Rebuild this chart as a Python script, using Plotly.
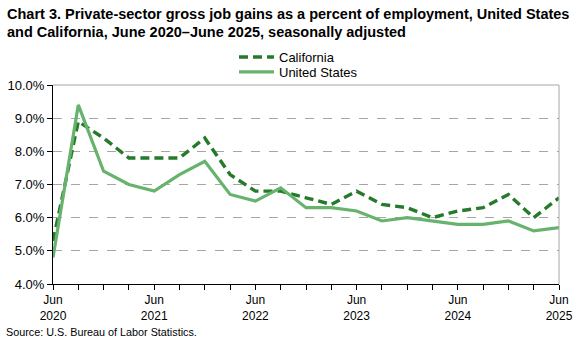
import plotly.graph_objects as go

quarters = ["Jun 2020", "Sep 2020", "Dec 2020", "Mar 2021", "Jun 2021", "Sep 2021", "Dec 2021",
            "Mar 2022", "Jun 2022", "Sep 2022", "Dec 2022", "Mar 2023", "Jun 2023", "Sep 2023",
            "Dec 2023", "Mar 2024", "Jun 2024", "Sep 2024", "Dec 2024", "Mar 2025", "Jun 2025"]
california = [5.3, 8.9, 8.4, 7.8, 7.8, 7.8, 8.4, 7.3, 6.8, 6.8, 6.6, 6.4, 6.8, 6.4,
              6.3, 6.0, 6.2, 6.3, 6.7, 6.0, 6.6]
united_states = [4.8, 9.4, 7.4, 7.0, 6.8, 7.3, 7.7, 6.7, 6.5, 6.9, 6.3, 6.3, 6.2, 5.9,
                 6.0, 5.9, 5.8, 5.8, 5.9, 5.6, 5.7]
tick_labels = ["Jun<br>2020", "Jun<br>2021", "Jun<br>2022", "Jun<br>2023", "Jun<br>2024", "Jun<br>2025"]
y_ticks = [4, 5, 6, 7, 8, 9, 10]
title_lines = ["Chart 3. Private-sector gross job gains as a percent of employment, United States",
               "and California, June 2020\u2013June 2025, seasonally adjusted"]
source_text = "Source: U.S. Bureau of Labor Statistics."

x = list(range(len(quarters)))
ticktext = []
k = 0
for i in x:
    if i % 4 == 0:
        ticktext.append(tick_labels[k]); k += 1
    else:
        ticktext.append("")

FONT = "Liberation Sans, Arial, sans-serif"
L, R, T, B = 53, 24, 85, 62
W, H = 583, 346
PH = H - T - B
PW = W - L - R

def px_x(px):
    return (px - L) / PW

def px_y(py):
    return 1 + (T - py) / PH

fig = go.Figure()
fig.add_trace(go.Scatter(x=x, y=california, name="California", mode="lines",
                         line=dict(color="#267a2c", width=3.4, dash="9px,5px"),
                         legend="legend"))
fig.add_trace(go.Scatter(x=x, y=united_states, name="United States", mode="lines",
                         line=dict(color="#67b36d", width=3.2),
                         legend="legend2"))

fig.update_layout(
    width=W, height=H,
    margin=dict(l=L, r=R, t=T, b=B, autoexpand=False),
    paper_bgcolor="white", plot_bgcolor="white",
    font=dict(family=FONT, size=12, color="black"),
    legend=dict(x=px_x(234), y=px_y(57), xanchor="left", yanchor="middle",
                bgcolor="rgba(0,0,0,0)", font=dict(size=13), itemwidth=35,
                borderwidth=0),
    legend2=dict(x=px_x(234), y=px_y(72), xanchor="left", yanchor="middle",
                 bgcolor="rgba(0,0,0,0)", font=dict(size=13), itemwidth=35,
                 borderwidth=0),
    showlegend=True,
)
fig.update_xaxes(range=[0, 20], tickmode="array", tickvals=x, ticktext=ticktext,
                 ticks="outside", ticklen=5, tickcolor="black", showline=True,
                 linecolor="black", linewidth=1, showgrid=False, zeroline=False,
                 tickfont=dict(size=12), tickangle=0, automargin=False)
fig.update_yaxes(range=[4, 10], tickmode="array", tickvals=y_ticks,
                 ticktext=[f"{v:.1f}%" for v in y_ticks],
                 ticks="outside", ticklen=5, tickcolor="black", showline=True,
                 linecolor="black", linewidth=1, showgrid=True, gridcolor="#a6a6a6",
                 griddash="dash", gridwidth=1, zeroline=False, tickfont=dict(size=13),
                 automargin=False)
# frame top/right
fig.add_shape(type="line", xref="paper", yref="paper", x0=0, x1=1, y0=1, y1=1,
              line=dict(color="#a6a6a6", width=1))
fig.add_shape(type="line", xref="paper", yref="paper", x0=1, x1=1, y0=0, y1=1,
              line=dict(color="#a6a6a6", width=1))
fig.add_annotation(text="<b>" + title_lines[0] + "</b>", xref="paper", yref="paper",
                   x=px_x(5), y=px_y(14), xanchor="left", yanchor="middle", showarrow=False,
                   font=dict(size=14.5, color="black"))
fig.add_annotation(text="<b>" + title_lines[1] + "</b>", xref="paper", yref="paper",
                   x=px_x(5), y=px_y(32), xanchor="left", yanchor="middle", showarrow=False,
                   font=dict(size=14.5, color="black"))
fig.add_annotation(text=source_text, xref="paper", yref="paper",
                   x=px_x(4), y=px_y(332), xanchor="left", yanchor="middle", showarrow=False,
                   font=dict(size=10.8))
fig.write_html("out.html", config={"displayModeBar": False},
               post_script="document.body.style.margin='0';")
